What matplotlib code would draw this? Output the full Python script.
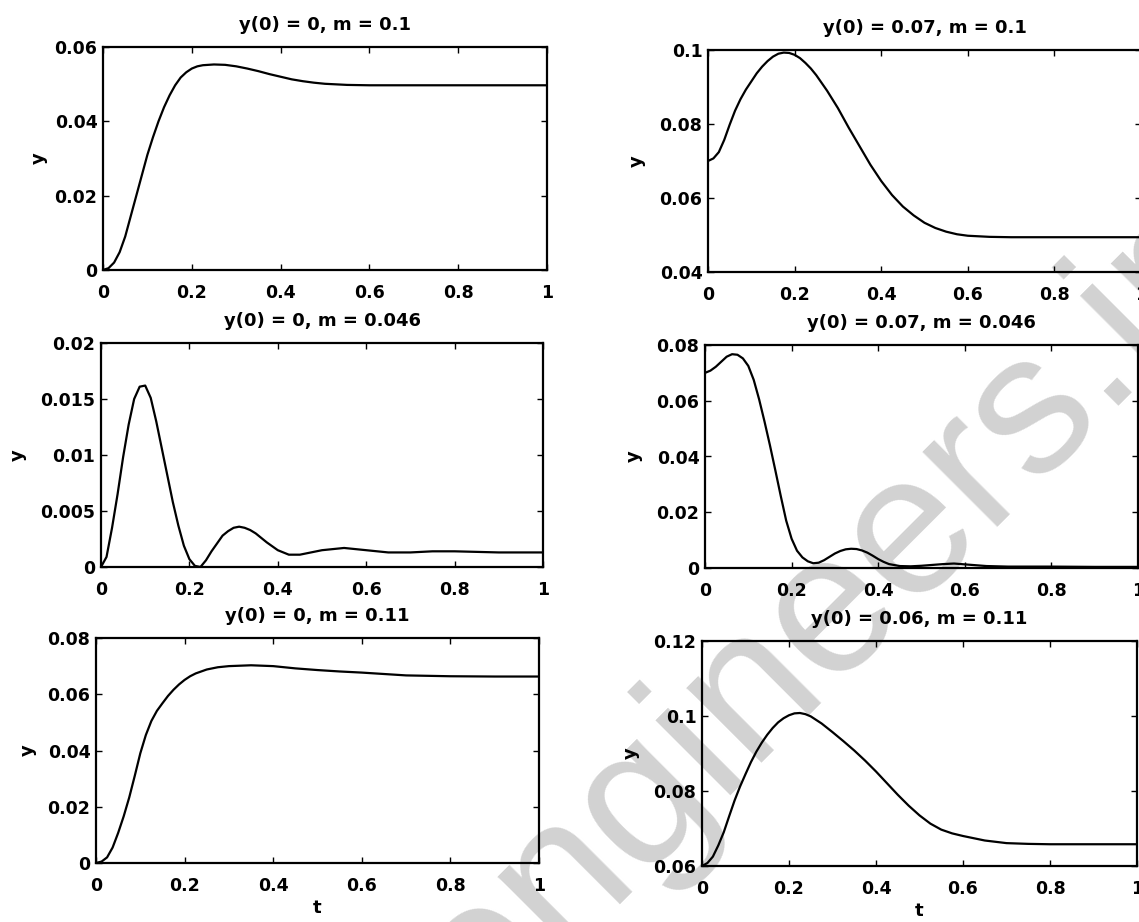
#!/usr/bin/env python3

"""
Response y(t) for two initial values y(0) and three values of m,
laid out as a 3x2 grid like the original MATLAB subplot figure.
"""

import matplotlib.pyplot as plt

# ---- data ------------------------------------------------------------------

# y(0) = 0, m = 0.1
t_1 = [0, 0.0125, 0.025, 0.0375, 0.05, 0.0625, 0.075, 0.0875, 0.1, 0.1125, 0.125,
       0.1375, 0.15, 0.1625, 0.175, 0.1875, 0.2, 0.2125, 0.225, 0.25, 0.275, 0.3,
       0.325, 0.35, 0.375, 0.4, 0.425, 0.45, 0.475, 0.5, 0.55, 0.6, 0.7, 0.8, 0.9, 1.0]
y_1 = [0, 0.0005, 0.002, 0.0048, 0.009, 0.0145, 0.020, 0.0255, 0.031, 0.0357, 0.040,
       0.0438, 0.047, 0.0497, 0.0518, 0.0532, 0.0542, 0.0548, 0.0551, 0.0553, 0.0552, 0.0548,
       0.0542, 0.0535, 0.0527, 0.052, 0.0513, 0.0508, 0.0504, 0.0501, 0.0498, 0.0497,
       0.0497, 0.0497, 0.0497, 0.0497]

# y(0) = 0.07, m = 0.1
t_2 = [0, 0.0125, 0.025, 0.0375, 0.05, 0.0625, 0.075, 0.0875, 0.1, 0.1125, 0.125,
       0.1375, 0.15, 0.1625, 0.175, 0.1875, 0.2, 0.2125, 0.225, 0.2375, 0.25, 0.275,
       0.3, 0.325, 0.35, 0.375, 0.4, 0.425, 0.45, 0.475, 0.5, 0.525, 0.55, 0.575,
       0.6, 0.65, 0.7, 0.8, 0.9, 1.0]
y_2 = [0.0700, 0.0707, 0.0724, 0.0757, 0.0798, 0.0836, 0.0867, 0.0893, 0.0915, 0.0937,
       0.0955, 0.0970, 0.0982, 0.0990, 0.0993, 0.0992, 0.0987, 0.0978, 0.0965, 0.0950,
       0.0932, 0.0890, 0.0843, 0.0790, 0.0740, 0.0690, 0.0646, 0.0608, 0.0577, 0.0553,
       0.0533, 0.0519, 0.0509, 0.0502, 0.0498, 0.0495, 0.0494, 0.0494, 0.0494, 0.0494]

# y(0) = 0, m = 0.046
t_3 = [0, 0.0125, 0.025, 0.0375, 0.05, 0.0625, 0.075, 0.0875, 0.1, 0.1125, 0.125,
       0.1375, 0.15, 0.1625, 0.175, 0.1875, 0.2, 0.2125, 0.225, 0.2375, 0.25, 0.2625,
       0.275, 0.2875, 0.3, 0.3125, 0.325, 0.3375, 0.35, 0.375, 0.4, 0.425, 0.45, 0.475,
       0.5, 0.525, 0.55, 0.575, 0.6, 0.65, 0.7, 0.75, 0.8, 0.9, 1.0]
y_3 = [0, 0.0009, 0.0035, 0.0065, 0.0098, 0.0127, 0.0150, 0.0161, 0.0162, 0.0151, 0.0130,
       0.0106, 0.0082, 0.0058, 0.0037, 0.0019, 0.0007, 0.0001, 0.0, 0.0006, 0.0014, 0.0021,
       0.0028, 0.0032, 0.0035, 0.0036, 0.0035, 0.0033, 0.0030, 0.0022, 0.0015, 0.0011,
       0.0011, 0.0013, 0.0015, 0.0016, 0.0017, 0.0016, 0.0015, 0.0013, 0.0013, 0.0014,
       0.0014, 0.0013, 0.0013]

# y(0) = 0.07, m = 0.046
t_4 = [0, 0.0125, 0.025, 0.0375, 0.05, 0.0625, 0.075, 0.0875, 0.1, 0.1125, 0.125,
       0.1375, 0.15, 0.1625, 0.175, 0.1875, 0.2, 0.2125, 0.225, 0.2375, 0.25, 0.2625,
       0.275, 0.2875, 0.3, 0.3125, 0.325, 0.3375, 0.35, 0.3625, 0.375, 0.3875, 0.4,
       0.4125, 0.425, 0.45, 0.475, 0.5, 0.525, 0.55, 0.575, 0.6, 0.625, 0.65, 0.7,
       0.8, 0.9, 1.0]
y_4 = [0.0700, 0.0708, 0.0722, 0.0740, 0.0758, 0.0767, 0.0765, 0.0752, 0.0725, 0.0675,
       0.0605, 0.0525, 0.0440, 0.0350, 0.0258, 0.0170, 0.0105, 0.0062, 0.0038, 0.0024,
       0.0017, 0.0019, 0.0028, 0.0040, 0.0052, 0.0061, 0.0067, 0.0069, 0.0068, 0.0063,
       0.0055, 0.0044, 0.0032, 0.0022, 0.0014, 0.0007, 0.0006, 0.0008, 0.0011, 0.0014,
       0.0016, 0.0013, 0.0010, 0.0007, 0.0005, 0.0005, 0.0004, 0.0004]

# y(0) = 0, m = 0.11
t_5 = [0, 0.0125, 0.025, 0.0375, 0.05, 0.0625, 0.075, 0.0875, 0.1, 0.1125, 0.125,
       0.1375, 0.15, 0.1625, 0.175, 0.1875, 0.2, 0.2125, 0.225, 0.25, 0.275, 0.3,
       0.35, 0.4, 0.45, 0.5, 0.55, 0.6, 0.65, 0.7, 0.8, 0.9, 1.0]
y_5 = [0, 0.0005, 0.0020, 0.0055, 0.0107, 0.0166, 0.0233, 0.0310, 0.0390, 0.0455, 0.0505,
       0.0541, 0.0568, 0.0594, 0.0616, 0.0635, 0.0651, 0.0664, 0.0674, 0.0688, 0.0696,
       0.0700, 0.0703, 0.0700, 0.0692, 0.0686, 0.0681, 0.0677, 0.0672, 0.0667, 0.0664,
       0.0663, 0.0663]

# y(0) = 0.06, m = 0.11
t_6 = [0, 0.0125, 0.025, 0.0375, 0.05, 0.0625, 0.075, 0.0875, 0.1, 0.1125, 0.125,
       0.1375, 0.15, 0.1625, 0.175, 0.1875, 0.2, 0.2125, 0.225, 0.2375, 0.25, 0.275,
       0.3, 0.325, 0.35, 0.375, 0.4, 0.425, 0.45, 0.475, 0.5, 0.525, 0.55, 0.575,
       0.6, 0.65, 0.7, 0.75, 0.8, 0.9, 1.0]
y_6 = [0.0600, 0.0608, 0.0625, 0.0655, 0.0690, 0.0733, 0.0775, 0.0812, 0.0845, 0.0877,
       0.0905, 0.0929, 0.0950, 0.0968, 0.0983, 0.0994, 0.1002, 0.1007, 0.1008, 0.1005,
       0.0999, 0.0980, 0.0957, 0.0933, 0.0908, 0.0881, 0.0852, 0.0821, 0.0790, 0.0761,
       0.0735, 0.0713, 0.0697, 0.0687, 0.0680, 0.0668, 0.0661, 0.0659, 0.0658, 0.0658,
       0.0658]

titles = ["y(0) = 0, m = 0.1", "y(0) = 0.07, m = 0.1",
          "y(0) = 0, m = 0.046", "y(0) = 0.07, m = 0.046",
          "y(0) = 0, m = 0.11", "y(0) = 0.06, m = 0.11"]

x_ticks = [0, 0.2, 0.4, 0.6, 0.8, 1.0]
x_tick_labels = ["0", "0.2", "0.4", "0.6", "0.8", "1"]

y_ticks_1 = [0, 0.02, 0.04, 0.06]
y_labels_1 = ["0", "0.02", "0.04", "0.06"]
y_ticks_2 = [0.04, 0.06, 0.08, 0.1]
y_labels_2 = ["0.04", "0.06", "0.08", "0.1"]
y_ticks_3 = [0, 0.005, 0.01, 0.015, 0.02]
y_labels_3 = ["0", "0.005", "0.01", "0.015", "0.02"]
y_ticks_4 = [0, 0.02, 0.04, 0.06, 0.08]
y_labels_4 = ["0", "0.02", "0.04", "0.06", "0.08"]
y_ticks_5 = [0, 0.02, 0.04, 0.06, 0.08]
y_labels_5 = ["0", "0.02", "0.04", "0.06", "0.08"]
y_ticks_6 = [0.06, 0.08, 0.1, 0.12]
y_labels_6 = ["0.06", "0.08", "0.1", "0.12"]

# ---- layout -----------------------------------------------------------------

W, H = 1139, 922
FONT = 12.5

plt.rcParams["font.family"] = ["DejaVu Sans"]
plt.rcParams["font.weight"] = "bold"

fig = plt.figure(figsize=(W / 100, H / 100), dpi=100)
fig.patch.set_facecolor("white")

# watermark of the scanned page
fig.text(832 / W, 1 - 612 / H, "engineers.in", rotation=45, rotation_mode="anchor",
         ha="center", va="center", fontsize=144, color="#d2d2d2",
         family="Liberation Sans", fontweight="normal", zorder=-1)

# axes boxes in pixels: left, top, right, bottom (scan is a little skewed)
boxes = [(103, 47, 547, 270), (708, 50, 1141, 272),
         (101, 343, 543, 567), (705, 345, 1138, 568),
         (96, 638, 539, 863), (702, 641, 1137, 866)]
# x pixel of the centre of each "y" label
ylabel_x = [39, 637, 18, 634, 28, 631]

series = [(t_1, y_1), (t_2, y_2), (t_3, y_3), (t_4, y_4), (t_5, y_5), (t_6, y_6)]
y_ticks = [(y_ticks_1, y_labels_1), (y_ticks_2, y_labels_2), (y_ticks_3, y_labels_3),
           (y_ticks_4, y_labels_4), (y_ticks_5, y_labels_5), (y_ticks_6, y_labels_6)]

for i, (box, (t, y), (yt, ytl), title) in enumerate(zip(boxes, series, y_ticks, titles)):
    x0, y0, x1, y1 = box
    ax = fig.add_axes([x0 / W, 1 - y1 / H, (x1 - x0) / W, (y1 - y0) / H])
    ax.set_facecolor("none")

    ax.plot(t, y, color="black", linewidth=1.6, solid_joinstyle="round")

    ax.set_xlim(0, 1)
    ax.set_ylim(yt[0], yt[-1])
    ax.set_xticks(x_ticks, labels=x_tick_labels)
    ax.set_yticks(yt, labels=ytl)

    ax.tick_params(direction="in", top=True, right=True, length=4, width=1,
                   labelsize=FONT)
    ax.tick_params(axis="x", pad=10)
    ax.tick_params(axis="y", pad=4)
    for spine in ax.spines.values():
        spine.set_linewidth(1.6)

    ax.set_title(title, fontsize=FONT + 0.5, fontweight="bold", pad=12)
    ax.set_ylabel("y", fontsize=FONT + 0.5, fontweight="bold", va="center")
    ax.yaxis.set_label_coords((ylabel_x[i] - x0) / (x1 - x0), 0.5)
    if i >= 4:
        ax.set_xlabel("t", fontsize=FONT + 0.5, fontweight="bold", labelpad=3)

plt.savefig("out.png", dpi=100)
plt.close()
